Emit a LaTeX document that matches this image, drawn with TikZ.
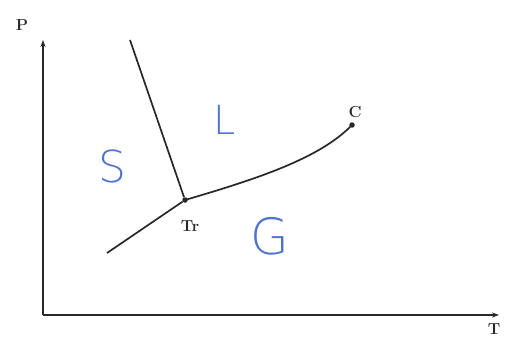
\documentclass[tikz,border=0pt]{standalone}
\usepackage{fontspec}
\newfontfamily\handfont{DejaVu Sans ExtraLight}
\usetikzlibrary{arrows.meta}
\definecolor{hand}{RGB}{80,115,205}
\definecolor{ink}{RGB}{40,40,40}
\tikzset{
  axisline/.style={ink, line width=1.6pt, -{Stealth[length=7pt,width=5pt]}},
  phaseline/.style={ink, line width=1.7pt},
  pt/.style={circle, fill=ink, inner sep=0pt, minimum size=5.5pt},
  lbl/.style={font=\fontsize{16}{18}\selectfont\bfseries, text=ink},
  region/.style={font=\handfont\fontsize{40}{40}\selectfont, text=hand}
}
\begin{document}
\begin{tikzpicture}[x=1pt,y=1pt]
\useasboundingbox (0,0) rectangle (505,338);
\fill[white] (0,0) rectangle (505,338);
\coordinate (O) at (43,23);
\coordinate (Ptop) at (43,298);
\coordinate (Tend) at (499,23);
\draw[axisline] (O) -- (Ptop);
\draw[axisline] (O) -- (Tend);
\node[lbl] (Plbl) at (22,313) {P};
\node[lbl] (Tlbl) at (494,9) {T};
\node[pt] (Tr) at (185,138) {};
\node[pt] (C) at (352,213) {};
\coordinate (F) at (130,298);
\coordinate (Sb) at (107,85);
\draw[phaseline] (Tr) -- (F);
\draw[phaseline] (Tr) -- (Sb);
\draw[phaseline] (Tr.center) .. controls (260,160) and (320,180) .. (C.center);
\node[lbl] (Trlbl) at (190,112) {Tr};
\node[lbl] (Clbl) at (355,226) {C};
\node[region, font=\handfont\fontsize{44}{44}\selectfont] (S) at (112,172) {S};
\node[region] (L) at (225,218) {L};
\node[region, font=\handfont\fontsize{50}{50}\selectfont] (G) at (270,102) {G};
\end{tikzpicture}
\end{document}
